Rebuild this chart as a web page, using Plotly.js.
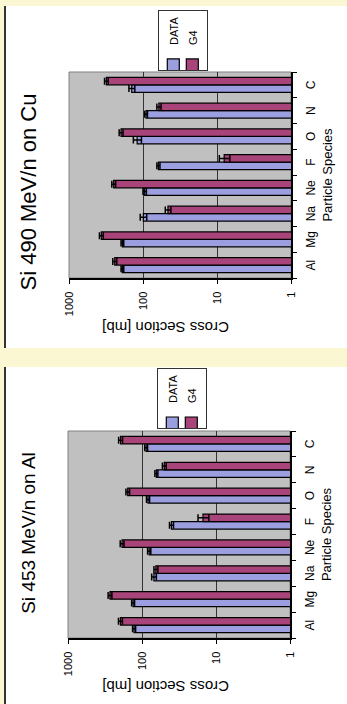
<!DOCTYPE html>
<html><head><meta charset="utf-8">
<script src="https://cdn.plot.ly/plotly-3.0.1.min.js"></script>
<style>
html,body{margin:0;padding:0;background:#fbf7d3;width:347px;height:704px;overflow:hidden;}
.panel{position:absolute;background:#fff;border-left:2px solid #333;box-sizing:border-box;}
.chart{position:absolute;transform-origin:0 0;}
</style></head><body>
<div class="panel" style="left:4px;top:6px;width:343px;height:342px;"></div>
<div class="panel" style="left:4px;top:367px;width:343px;height:337px;"></div>
<div id="cu" class="chart" style="left:6px;top:6px;width:342px;height:341px;transform:translateY(342px) rotate(-90deg);"></div>
<div id="al" class="chart" style="left:6px;top:367px;width:337px;height:341px;transform:translateY(337px) rotate(-90deg);"></div>
<script>
const species = ['Al','Mg','Na','Ne','F','O','N','C'];
const valueTicks = [1, 10, 100, 1000];
const valueTickText = ['1', '10', '100', '1000'];

// Si 490 MeV/n on Cu
const cuData    = [190, 190, 99, 95, 62, 120, 91, 142];
const cuDataErr = [8, 8, 10, 5, 3, 15, 4, 13];
const cuG4      = [241, 366, 46, 249, 8, 198, 61, 313];
const cuG4Err   = [15, 22, 4, 15, 1.3, 12, 4, 18];

// Si 453 MeV/n on Al
const alData    = [128, 132, 69, 80, 40, 83, 64, 88];
const alDataErr = [6, 6, 5, 4, 2.5, 4, 3, 4];
const alG4      = [196, 271, 65, 186, 15, 156, 50, 195];
const alG4Err   = [12, 16, 4, 11, 2.5, 9, 3, 12];

function makeChart(id, cfg) {
  const traces = [
    {type:'bar', name:'DATA', x:species, y:cfg.data,
     marker:{color:'#9b9fe0', line:{color:'#000', width:1.2}},
     error_y:{type:'data', array:cfg.dataErr, visible:true, color:'#000', thickness:1.5, width:3.5}},
    {type:'bar', name:'G4', x:species, y:cfg.g4,
     marker:{color:'#a9447a', line:{color:'#000', width:1.2}},
     error_y:{type:'data', array:cfg.g4Err, visible:true, color:'#000', thickness:1.5, width:3.5}}
  ];
  const layout = {
    width: cfg.W, height: 341, autosize:false,
    margin:{l:cfg.l, r:cfg.W - cfg.l - cfg.w, t:cfg.t, b:341 - cfg.t - cfg.h, pad:0, autoexpand:false},
    paper_bgcolor:'rgba(0,0,0,0)', plot_bgcolor:'#c0c0c0',
    font:{family:'Liberation Sans, Arial, sans-serif', size:11, color:'#000'},
    title:{text:cfg.title, font:{size:cfg.titleSize, color:'#000'}, xref:'container', yref:'container',
           x:cfg.titleX, xanchor:'center', y:cfg.titleY, yanchor:'middle'},
    barmode:'group', bargap:0.42, bargroupgap:0,
    showlegend:true,
    xaxis:{type:'category', categoryorder:'array', categoryarray:species, tickson:'boundaries',
           ticks:'outside', ticklen:4, tickcolor:'#000', tickwidth:1, showline:true, linecolor:'#000', linewidth:1.5,
           showgrid:false, tickfont:{size:12}, tickangle:0, ticklabelstandoff:8, fixedrange:true, automargin:false,
           title:{text:'Particle Species', font:{size:13}, standoff:6}},
    yaxis:{type:'log', range:[0,3], tickmode:'array', tickvals:valueTicks, ticktext:valueTickText,
           ticks:'outside', ticklen:4, tickcolor:'#000', showline:true, linecolor:'#000', linewidth:1.5,
           showgrid:true, gridcolor:'#333', gridwidth:1, zeroline:false, tickfont:{size:11}, tickangle:0,
           ticklabelstandoff:6, fixedrange:true, automargin:false},
    legend:{x:cfg.legX, y:cfg.legY, xanchor:'left', yanchor:'top', bgcolor:'#fff', bordercolor:'#333',
            borderwidth:1, font:{size:11}, indentation:-15, tracegroupgap:0},
    shapes:[{type:'rect', xref:'paper', yref:'paper', x0:0, x1:1, y0:0, y1:1,
             line:{color:'#808080', width:1}, fillcolor:'rgba(0,0,0,0)', layer:'below'}],
    annotations:[{text:'Cross Section [mb]', textangle:-90, xref:'paper', yref:'paper',
                  x:cfg.ytX, y:cfg.ytY, xanchor:'center', yanchor:'middle', showarrow:false, font:{size:15}}]
  };
  Plotly.newPlot(id, traces, layout, {displayModeBar:false, staticPlot:true});
}

makeChart('cu', {W:342, l:70, w:206, t:63, h:222, title:'Si 490 MeV/n on Cu', titleSize:22,
  titleX:156/342, titleY:1 - 22/341, legX:1.005, legY:0.6, ytX:-0.238, ytY:0.568,
  data:cuData, dataErr:cuDataErr, g4:cuG4, g4Err:cuG4Err});
makeChart('al', {W:337, l:66, w:207, t:62, h:222, title:'Si 453 MeV/n on Al', titleSize:19,
  titleX:171/337, titleY:1 - 22/341, legX:1.0097, legY:0.6, ytX:-0.237, ytY:0.563,
  data:alData, dataErr:alDataErr, g4:alG4, g4Err:alG4Err});
</script>
</body></html>
